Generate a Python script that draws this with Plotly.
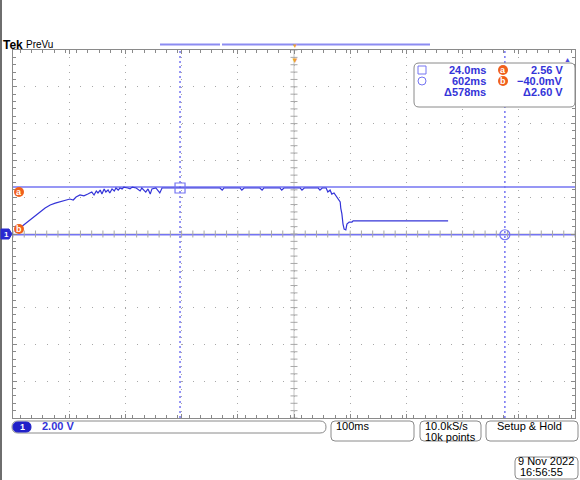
import numpy as np
import plotly.graph_objects as go

time_ms = [-270, -261, -252, -243, -234, -225, -216, -207, -198, -190,
           -181, -172, -166, -161, -154, -147, -140, -133, -129, -125,
           -122, -118, -115, -111, -108, -104, -101, -97, -93, -90,
           -86, -83, -79, -76, -69, -65, -61, -54, -47, -44,
           -37, -33, -29, -26, -19, -12, -8, 6, 24, 42,
           60, 95, 99, 102, 131, 134, 138, 166, 170, 173,
           202, 205, 209, 238, 241, 245, 255, 270, 273, 277,
           284, 287, 291, 294, 298, 302, 305, 309, 310, 312,
           314, 316, 319, 321, 325, 330, 332, 344, 415, 501]
ch1_volts = [0.11, 0.33, 0.54, 0.76, 1.03, 1.20, 1.41, 1.58, 1.68, 1.74,
             1.85, 1.90, 1.85, 2.01, 2.12, 2.07, 2.17, 2.28, 2.12, 2.34,
             2.23, 2.39, 2.17, 2.45, 2.28, 2.39, 2.23, 2.45, 2.34, 2.50,
             2.39, 2.50, 2.45, 2.55, 2.50, 2.45, 2.55, 2.50, 2.34, 2.50,
             2.28, 2.45, 2.17, 2.45, 2.50, 2.23, 2.50, 2.50, 2.50, 2.50,
             2.50, 2.50, 2.39, 2.50, 2.50, 2.39, 2.50, 2.50, 2.39, 2.50,
             2.50, 2.39, 2.50, 2.50, 2.39, 2.50, 2.50, 2.50, 2.39, 2.50,
             2.50, 2.28, 2.39, 2.17, 2.23, 2.07, 1.96, 1.74, 1.41, 1.09,
             0.54, 0.27, 0.22, 0.54, 0.65, 0.65, 0.71, 0.71, 0.71, 0.71]

cursor_time_ms = [24.0, 602.0]
cursor_volts = [2.56, -0.040]
readout_time = ["24.0ms", "602ms", "\u0394578ms"]
readout_volt = ["2.56 V", "\u221240.0mV", "\u03942.60 V"]
ch1_scale = "2.00 V"
timebase = "100ms"
sample_info = ["10.0kS/s", "10k points"]
trigger_mode = "Setup & Hold"
date_text = ["9 Nov 2022", "16:56:55"]

# ---------------- geometry ----------------
W, H = 580, 480
L, R, T, B = 13, 575, 50, 418
X0, X1 = -273.2, 726.8
Y0, Y1 = -10.0, 10.0
XC = (X0 + X1) / 2

BLUE = "#3434d8"
CBLUE = "#7474f2"
ORANGE = "#f0601c"
GRID = "#a8a8a8"
FONT = "Liberation Sans, Arial, sans-serif"


def pxx(x):
    return (x - L) / (R - L)


def pxy(y):
    return (B - y) / (B - T)


def rrect(x0, y0, x1, y1, r, line="#8a8a8a", fill="white", width=1):
    a, b = pxx(x0), pxx(x1)
    t, u = pxy(y0), pxy(y1)
    rx, ry = r / (R - L), r / (B - T)
    p = (f"M{a+rx},{t} L{b-rx},{t} Q{b},{t} {b},{t-ry} L{b},{u+ry} Q{b},{u} {b-rx},{u} "
         f"L{a+rx},{u} Q{a},{u} {a},{u+ry} L{a},{t-ry} Q{a},{t} {a+rx},{t} Z")
    return dict(type="path", path=p, xref="paper", yref="paper",
                line=dict(color=line, width=width), fillcolor=fill, layer="above")


def txt(x, y, s, color="black", size=11, anchor="left", bold=False):
    return dict(x=pxx(x), y=pxy(y), xref="paper", yref="paper", text=(f"<b>{s}</b>" if bold else s),
                showarrow=False, xanchor=anchor, yanchor="middle",
                font=dict(family=FONT, size=size, color=color))


def circ(x, y, r, color):
    return dict(type="circle", xref="paper", yref="paper", xsizemode="pixel", ysizemode="pixel",
                xanchor=pxx(x), yanchor=pxy(y), x0=-r, x1=r, y0=-r, y1=r,
                fillcolor=color, line=dict(width=0), layer="above")


fig = go.Figure()

# centre crosshair tick marks
fig.add_trace(go.Scatter(x=np.arange(X0, X1 + 1e-6, 20), y=np.zeros(51), mode="markers",
                         marker=dict(symbol="line-ns", size=5, color=GRID, line=dict(width=1, color=GRID)),
                         hoverinfo="skip", showlegend=False))
fig.add_trace(go.Scatter(x=np.full(51, XC), y=np.arange(Y0, Y1 + 1e-6, 0.4), mode="markers",
                         marker=dict(symbol="line-ew", size=5, color=GRID, line=dict(width=1, color=GRID)),
                         hoverinfo="skip", showlegend=False))

# waveform
fig.add_trace(go.Scatter(x=time_ms, y=ch1_volts, mode="lines",
                         line=dict(color=BLUE, width=1.2), showlegend=False))

# cursor markers
fig.add_trace(go.Scatter(x=[cursor_time_ms[0]], y=[ch1_volts[time_ms.index(24)]], mode="markers",
                         marker=dict(symbol="square-open", size=10, color=CBLUE,
                                     line=dict(width=1.2, color=CBLUE)),
                         showlegend=False))
fig.add_trace(go.Scatter(x=[cursor_time_ms[1]], y=[cursor_volts[1]], mode="markers",
                         marker=dict(symbol="circle-open", size=10, color=CBLUE,
                                     line=dict(width=1.2, color=CBLUE)),
                         showlegend=False))

shapes = []
# centre lines
shapes.append(dict(type="line", xref="x", yref="y", x0=XC, x1=XC, y0=Y0, y1=Y1,
                   line=dict(color="#c4c4c4", width=1), layer="between"))
shapes.append(dict(type="line", xref="x", yref="y", x0=X0, x1=X1, y0=0, y1=0,
                   line=dict(color="#c4c4c4", width=1), layer="between"))
# cursors
for v in cursor_volts:
    shapes.append(dict(type="line", xref="x", yref="y", x0=X0, x1=X1, y0=v, y1=v,
                       line=dict(color=CBLUE, width=1.5), layer="between"))
for t in cursor_time_ms:
    shapes.append(dict(type="line", xref="x", yref="y", x0=t, x1=t, y0=Y0, y1=Y1,
                       line=dict(color=CBLUE, width=1.5, dash="2px,3px"), layer="between"))

# left outer frame line
shapes.append(dict(type="line", xref="paper", yref="paper", x0=pxx(1), x1=pxx(1), y0=pxy(0), y1=pxy(480),
                   line=dict(color="#6e6e6e", width=2), layer="above"))
# record view bar on top
shapes.append(dict(type="line", xref="paper", yref="paper", x0=pxx(160), x1=pxx(220), y0=pxy(44.5), y1=pxy(44.5),
                   line=dict(color="#8c8cf2", width=2), layer="above"))
shapes.append(dict(type="line", xref="paper", yref="paper", x0=pxx(222), x1=pxx(430), y0=pxy(44.5), y1=pxy(44.5),
                   line=dict(color="#8c8cf2", width=2), layer="above"))

# readout box
shapes.append(rrect(414, 63, 575, 107, 5))
shapes.append(dict(type="rect", xref="paper", yref="paper", x0=pxx(418), x1=pxx(426), y0=pxy(66), y1=pxy(74),
                   line=dict(color=CBLUE, width=1), fillcolor="rgba(0,0,0,0)", layer="above"))
shapes.append(dict(type="circle", xref="paper", yref="paper", x0=pxx(418), x1=pxx(426), y0=pxy(77), y1=pxy(85),
                   line=dict(color=CBLUE, width=1), fillcolor="rgba(0,0,0,0)", layer="above"))
shapes.append(circ(503, 70, 5, ORANGE))
shapes.append(circ(503, 81, 5, ORANGE))
# a / b level markers on left
shapes.append(circ(19, 192, 5, ORANGE))
shapes.append(circ(19, 229, 5, ORANGE))
# ch1 ground marker
gx = [1, 9, 12, 9, 1]
gy = [229, 229, 234, 239, 239]
gp = "M" + " L".join(f"{pxx(a)},{pxy(b)}" for a, b in zip(gx, gy)) + " Z"
shapes.append(dict(type="path", path=gp, xref="paper", yref="paper", fillcolor="#2a2ad0",
                   line=dict(color="#2a2ad0", width=1), layer="above"))

# bottom status boxes
shapes.append(rrect(12, 421, 326, 433, 6))
shapes.append(rrect(13, 422, 31, 432, 5, line="#2020c8", fill="#2020c8"))
shapes.append(rrect(331, 421, 414, 441, 4))
shapes.append(rrect(420, 421, 481, 441, 4))
shapes.append(rrect(486, 421, 578, 441, 4))
shapes.append(rrect(515, 457, 578, 479, 4))

ann = []
ann.append(txt(1, 45, "Tek", size=12, bold=True))
ann.append(txt(24, 44, "PreVu", size=10))
ann.append(dict(x=pxx(295), y=pxy(40), xref="paper", yref="paper", text="\u25bc", showarrow=False,
                font=dict(size=6, color="#f0a030")))
ann.append(dict(x=pxx(295), y=pxy(52), xref="paper", yref="paper", text="\u25bc", showarrow=False,
                font=dict(size=8, color="#f0a030")))
ann.append(dict(x=pxx(573), y=pxy(53), xref="paper", yref="paper", text="\u25b2", showarrow=False,
                font=dict(size=7, color="#4a4ae0")))
rows_y = [70, 81, 92]
for i in range(3):
    ann.append(txt(488, rows_y[i], readout_time[i], color=BLUE, anchor="right", bold=True))
    ann.append(txt(565, rows_y[i], readout_volt[i], color=BLUE, anchor="right", bold=True))
ann.append(txt(503, 70, "a", color="white", size=9, anchor="center", bold=True))
ann.append(txt(503, 81, "b", color="white", size=9, anchor="center", bold=True))
ann.append(txt(19, 192, "a", color="white", size=9, anchor="center", bold=True))
ann.append(txt(19, 229, "b", color="white", size=9, anchor="center", bold=True))
ann.append(txt(6, 234, "1", color="white", size=8, anchor="center", bold=True))
ann.append(txt(22, 427, "1", color="white", size=9, anchor="center", bold=True))
ann.append(txt(40, 426, ch1_scale, color=BLUE, size=11, bold=True))
ann.append(txt(334, 426, timebase, size=11))
ann.append(txt(423, 426, sample_info[0], size=11))
ann.append(txt(423, 437, sample_info[1], size=11))
ann.append(txt(495, 426, trigger_mode, size=11))
ann.append(txt(576, 461, date_text[0], size=11, anchor="right"))
ann.append(txt(518, 472, date_text[1], size=11))

axis_common = dict(showticklabels=False, zeroline=False, showline=True, mirror="allticks",
                   linecolor="#8a8a8a", linewidth=1, ticks="inside", ticklen=4, tickcolor="#8a8a8a",
                   showgrid=True, gridcolor=GRID, gridwidth=1, fixedrange=True)

fig.update_layout(
    width=W, height=H, autosize=False,
    margin=dict(l=L, r=W - R, t=T, b=H - B, pad=0),
    paper_bgcolor="white", plot_bgcolor="white",
    showlegend=False,
    xaxis=dict(range=[X0, X1], tick0=X0, dtick=100, griddash="1px,6.36px",
               minor=dict(dtick=20, ticks="inside", ticklen=3, tickcolor="#8a8a8a", showgrid=False),
               **axis_common),
    yaxis=dict(range=[Y0, Y1], tick0=Y0, dtick=2, griddash="1px,10.24px",
               minor=dict(dtick=0.4, ticks="inside", ticklen=3, tickcolor="#8a8a8a", showgrid=False),
               **axis_common),
    shapes=shapes,
    annotations=ann,
)

fig.write_html("out.html", config=dict(displayModeBar=False),
               post_script="document.body.style.margin='0';document.body.style.overflow='hidden';")
